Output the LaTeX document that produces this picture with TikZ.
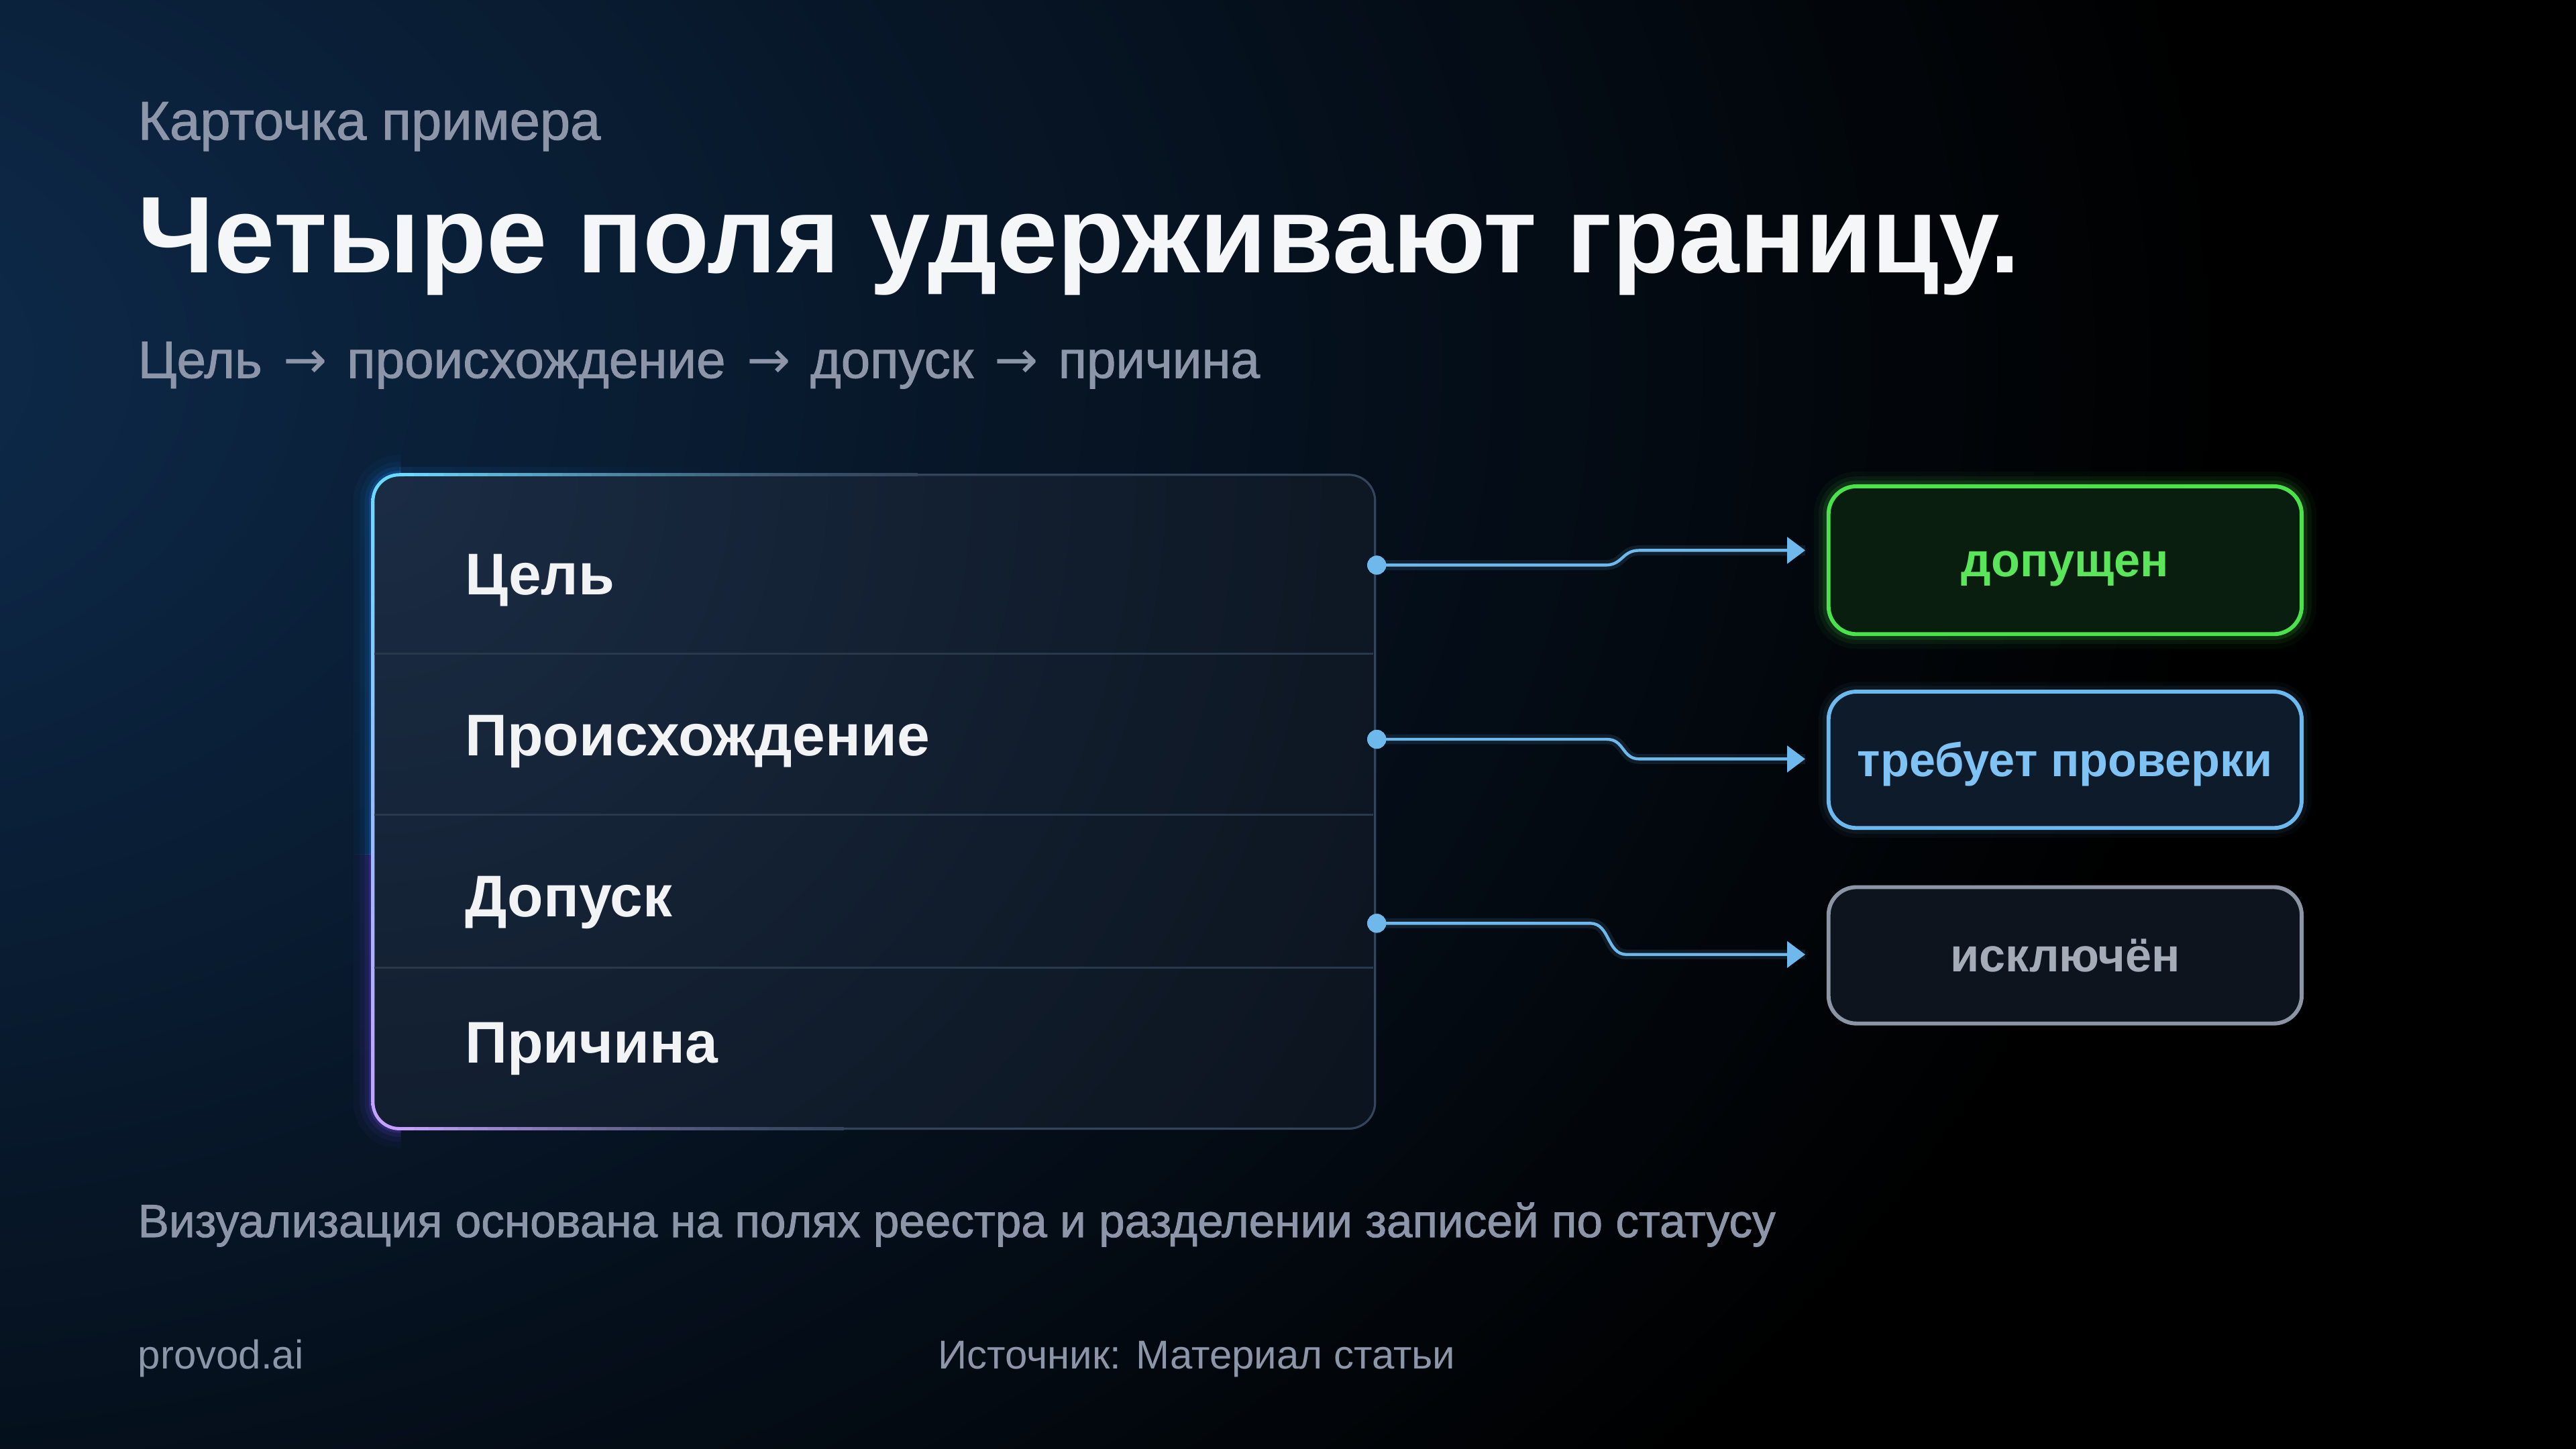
\documentclass[tikz,border=0pt]{standalone}
\usepackage{fontspec}
\setmainfont{Liberation Sans}
\newfontfamily\medfont[FakeBold=1.3]{Liberation Sans}
\newfontfamily\arrowfont{DejaVu Sans}
\usetikzlibrary{arrows.meta}
\definecolor{muted}{HTML}{8C96A8}
\definecolor{titlec}{HTML}{F5F6F7}
\definecolor{bgglow}{HTML}{0E2C4E}
\definecolor{cardbase}{HTML}{0C141F}
\definecolor{cardhi}{HTML}{1A2C44}
\definecolor{cardedge}{HTML}{34445A}
\definecolor{dividerc}{HTML}{2A384B}
\definecolor{edgecyan}{HTML}{6ADAFF}
\definecolor{edgeblue}{HTML}{4C7DFF}
\definecolor{edgepurple}{HTML}{C7A0FF}
\definecolor{glowblue}{HTML}{1E8CFF}
\definecolor{glowpurple}{HTML}{7A4DFF}
\definecolor{rowtext}{HTML}{F2F3F5}
\definecolor{linkblue}{HTML}{6EB8EC}
\definecolor{okgreen}{HTML}{4BE34B}
\definecolor{okfill}{HTML}{0A1E0F}
\definecolor{oktext}{HTML}{5AE55A}
\definecolor{chkblue}{HTML}{6CB9F0}
\definecolor{chkfill}{HTML}{0E1B2B}
\definecolor{chktext}{HTML}{7EC3F4}
\definecolor{exgray}{HTML}{8C95A3}
\definecolor{exfill}{HTML}{0D141E}
\definecolor{extext}{HTML}{A4ACB8}
\newcommand{\subarrow}{\hspace{13pt}{\arrowfont →}\hspace{12pt}}
\tikzset{
  txt/.style={anchor=base west, inner sep=0pt, outer sep=0pt},
  rowlabel/.style={txt, text=rowtext, font=\fontsize{35.8}{42}\selectfont\bfseries},
  dividerline/.style={draw=dividerc, line width=1pt},
  dot/.style={circle, fill=linkblue, inner sep=0pt, minimum size=11.5pt},
  conn/.style={draw=linkblue, line width=1.8pt, -{Triangle[length=11pt,width=16pt]}},
  connglow/.style={draw=linkblue, line width=6pt, opacity=0.12},
  statusbox/.style={rounded corners=17pt, line width=2.4pt, minimum width=288pt,
     inner sep=0pt, text height=20pt, text depth=0pt, font=\fontsize{28.7}{34}\selectfont\bfseries},
}
\begin{document}
\begin{tikzpicture}[x=1pt,y=-1pt]
\useasboundingbox (0,0) rectangle (1568,882);
% background
\fill[black] (0,0) rectangle (1568,882);
\begin{scope}
  \clip (0,0) rectangle (1568,882);
  \shade[inner color=bgglow, outer color=black] (-140,220) ellipse [x radius=1500, y radius=1050];
\end{scope}

% header texts
\node[txt, text=muted, font=\fontsize{33.2}{38}\selectfont\medfont] (kicker) at (84,85) {Карточка примера};
\node[txt, text=titlec, font=\fontsize{66.3}{78}\selectfont\bfseries] (title) at (84,166) {Четыре поля удерживают границу.};
\node[txt, text=muted, font=\fontsize{31.9}{36}\selectfont\medfont] (sub) at (84,230) {Цель\subarrow происхождение\subarrow допуск\subarrow причина};

% card glow
\begin{scope}
  \clip (150,200) rectangle (244,520);
  \foreach \w/\o in {24/0.04,16/0.06,10/0.10,5/0.20}
    \draw[line width=\w pt, draw=glowblue, opacity=\o, rounded corners=16pt] (227,289) rectangle (837,687);
\end{scope}
\begin{scope}
  \clip (150,520) rectangle (244,760);
  \foreach \w/\o in {24/0.04,16/0.06,10/0.10,5/0.20}
    \draw[line width=\w pt, draw=glowpurple, opacity=\o, rounded corners=16pt] (227,289) rectangle (837,687);
\end{scope}
\foreach \i in {0,...,24} {
  \pgfmathsetmacro{\q}{0.10*(1-\i/25)}
  \draw[line width=10pt, draw=glowblue, opacity=\q] (243+\i*8,289) -- (251+\i*8,289);
}

% card body
\begin{scope}
  \clip[rounded corners=16pt] (227,289) rectangle (837,687);
  \fill[cardbase] (227,289) rectangle (837,687);
  \shade[inner color=cardhi, outer color=cardbase] (227,289) circle (700);
\end{scope}
\draw[draw=cardedge, line width=1.3pt, rounded corners=16pt] (227,289) rectangle (837,687);
% coloured left edge
\begin{scope}
  \clip (200,270) rectangle (246,710);
  \shade[even odd rule, top color=edgecyan, middle color=edgeblue, bottom color=edgepurple]
    [rounded corners=17pt] (226,288) rectangle (838,688)
    [rounded corners=15pt] (228,290) rectangle (836,686);
\end{scope}
\foreach \i in {0,...,34} {
  \pgfmathsetmacro{\p}{100*(1-\i/35)^1.6}
  \draw[line width=2pt, draw=edgecyan!\p!cardedge] (243+\i*9,289) -- (252.5+\i*9,289);
}
\foreach \i in {0,...,29} {
  \pgfmathsetmacro{\p}{100*(1-\i/30)^1.6}
  \draw[line width=2pt, draw=edgepurple!\p!cardedge] (243+\i*9,687) -- (252.5+\i*9,687);
}

% dividers
\draw[dividerline] (228,398) -- (836,398);
\draw[dividerline] (228,496) -- (836,496);
\draw[dividerline] (228,589) -- (836,589);

% row labels
\node[rowlabel] (r1) at (283,362) {Цель};
\node[rowlabel] (r2) at (283,460) {Происхождение};
\node[rowlabel] (r3) at (283,558) {Допуск};
\node[rowlabel] (r4) at (283,647) {Причина};

% status boxes (glow first)
\foreach \w/\o in {18/0.04,12/0.07,7/0.12}
  \draw[line width=\w pt, draw=okgreen, opacity=\o, rounded corners=17pt] (1113,296) rectangle (1401,386);
\foreach \w/\o in {12/0.04,7/0.07}
  \draw[line width=\w pt, draw=chkblue, opacity=\o, rounded corners=17pt] (1113,421) rectangle (1401,504);
\node[statusbox, draw=okgreen, fill=okfill, text=oktext, minimum height=90pt] (s1) at (1257,341) {допущен};
\node[statusbox, draw=chkblue, fill=chkfill, text=chktext, minimum height=83pt] (s2) at (1257,462.5) {требует проверки};
\node[statusbox, draw=exgray, fill=exfill, text=extext, minimum height=83pt] (s3) at (1257,581.5) {исключён};

% connectors
\coordinate (a1) at ([xshift=-13pt,yshift=6pt]s1.west);
\coordinate (a2) at ([xshift=-13pt,yshift=0.5pt]s2.west);
\coordinate (a3) at ([xshift=-13pt,yshift=0.5pt]s3.west);
\node[dot] (d1) at (838,344) {};
\node[dot] (d2) at (838,450) {};
\node[dot] (d3) at (838,562) {};
\draw[connglow] (d1.center) -- (977,344) .. controls (988,344) and (987,335) .. (998,335) -- (a1);
\draw[connglow] (d2.center) -- (978,450) .. controls (989,450) and (987,462) .. (998,462) -- (a2);
\draw[connglow] (d3.center) -- (968,562) .. controls (980,562) and (978,581) .. (990,581) -- (a3);
\draw[conn] (d1.center) -- (977,344) .. controls (988,344) and (987,335) .. (998,335) -- (a1);
\draw[conn] (d2.center) -- (978,450) .. controls (989,450) and (987,462) .. (998,462) -- (a2);
\draw[conn] (d3.center) -- (968,562) .. controls (980,562) and (978,581) .. (990,581) -- (a3);
\node[dot] at (d1) {};
\node[dot] at (d2) {};
\node[dot] at (d3) {};

% footer
\node[txt, text=muted, font=\fontsize{28.3}{34}\selectfont\medfont] (note) at (84,753) {Визуализация основана на полях реестра и разделении записей по статусу};
\node[txt, text=muted, font=\fontsize{24.5}{30}\selectfont] (brand) at (84,833) {provod.ai};
\node[txt, text=muted, font=\fontsize{24.5}{30}\selectfont] (src) at (571,833) {Источник: Материал статьи};
\end{tikzpicture}
\end{document}
